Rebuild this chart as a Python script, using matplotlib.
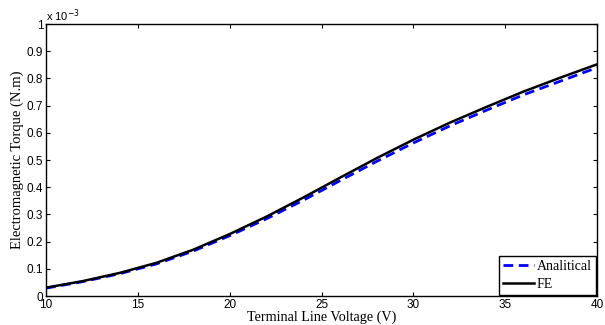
import numpy as np
import matplotlib
matplotlib.use('Agg')
import matplotlib.pyplot as plt

# data
voltage = [10, 12, 14, 16, 18, 20, 22, 24, 26, 28, 30, 32, 34, 36, 38, 40]
torque_fe = [0.031, 0.055, 0.085, 0.122, 0.170, 0.228, 0.292, 0.362, 0.435,
             0.507, 0.575, 0.638, 0.696, 0.752, 0.803, 0.852]
torque_an = [0.029, 0.053, 0.082, 0.118, 0.165, 0.222, 0.284, 0.352, 0.424,
             0.495, 0.563, 0.626, 0.684, 0.740, 0.790, 0.840]
xticks = [10, 15, 20, 25, 30, 35, 40]
yticks = [0, 0.1, 0.2, 0.3, 0.4, 0.5, 0.6, 0.7, 0.8, 0.9, 1]
ytick_labels = ['0', '0.1', '0.2', '0.3', '0.4', '0.5', '0.6', '0.7', '0.8', '0.9', '1']

fig = plt.figure(figsize=(6.05, 3.25), dpi=100)
ax = fig.add_axes([0.076, 0.089, 0.911, 0.837])

fe = np.array(torque_fe) * 1e-3
an = np.array(torque_an) * 1e-3
ax.plot(voltage, an, color='#0000ff', ls='--', lw=2.0, dashes=(3.5, 2), label='Analitical')
ax.plot(voltage, fe, color='black', lw=1.8, label='FE')

ax.set_xlim(10, 40)
ax.set_ylim(0, 1e-3)
ax.set_xticks(xticks)
ax.set_xticklabels([str(t) for t in xticks], family='Liberation Sans', fontsize=8.5)
ax.set_yticks(np.array(yticks) * 1e-3)
ax.set_yticklabels(ytick_labels, family='Liberation Sans', fontsize=8.5)
ax.tick_params(direction='in', length=3, width=0.8, top=True, right=True, pad=2)
for s in ax.spines.values():
    s.set_linewidth(1.0)

ax.text(0.0, 1.0, r'x 10$^{-3}$', transform=ax.transAxes, ha='left', va='bottom',
        family='Liberation Sans', fontsize=8)

ax.set_xlabel('Terminal Line Voltage (V)', family='Liberation Serif', fontsize=10.2, labelpad=0)
ax.set_ylabel('Electromagnetic Torque (N.m)', family='Liberation Serif', fontsize=10.5, labelpad=2)

leg = ax.legend(loc='lower right', prop={'family': 'Liberation Serif', 'size': 10},
                fancybox=False, framealpha=1, edgecolor='black', borderpad=0.3,
                handlelength=2.2, handletextpad=0.2, labelspacing=0.3, borderaxespad=0.1)
leg.get_frame().set_linewidth(1.0)

fig.savefig('out.png', dpi=100)
